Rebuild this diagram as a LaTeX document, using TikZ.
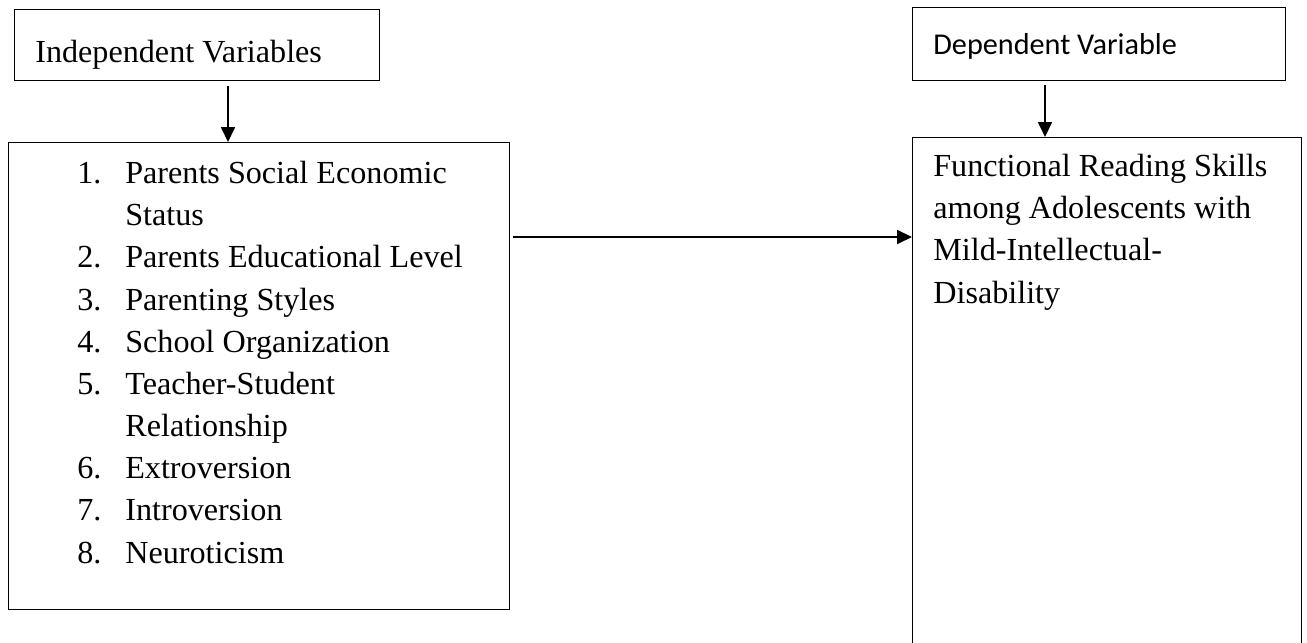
\documentclass[tikz,border=0pt]{standalone}
\usepackage{fontspec}
\setmainfont{Liberation Serif}
\newfontfamily\dvfont{Carlito}
\usetikzlibrary{arrows.meta}
\newcommand\itm[1]{\makebox[0.96cm][l]{#1.}}

\begin{document}
\begin{tikzpicture}[
x=0.02cm, y=-0.02cm,
bx/.style = {draw,line width=0.75pt,rectangle,anchor=north west,inner sep=0pt},
txt/.style = {anchor=base west,inner sep=0pt,align=left,font=\fontsize{18.3}{24}\selectfont},
sf/.style = {anchor=base west,inner sep=0pt,font=\dvfont\fontsize{17.2}{20}\selectfont},
arr/.style = {draw,-{Triangle[length=8.5pt,width=8pt]},line width=0.75pt}
]
  \useasboundingbox (0,0) rectangle (1307,642);

  \node[bx,minimum width=7.3cm,minimum height=1.42cm] (ivbox) at (14,9) {};
  \node[bx,minimum width=7.46cm,minimum height=1.46cm] (dvbox) at (912,7) {};
  \node[bx,minimum width=10.02cm,minimum height=9.34cm] (lbox) at (8,142) {};
  \node[bx,minimum width=7.78cm,minimum height=10.4cm] (rbox) at (912,137) {};

  % base anchor sits on the last line
  \node[txt] (ivtxt) at (35,63) {Independent Variables};
  \node[sf] (dvtxt) at (933,55) {Dependent Variable};
  \node[txt] (ivlist) at (77,563) {\itm{1}Parents Social Economic\\
    \hspace*{0.96cm}Status\\
    \itm{2}Parents Educational Level\\
    \itm{3}Parenting Styles\\
    \itm{4}School Organization\\
    \itm{5}Teacher-Student\\
    \hspace*{0.96cm}Relationship\\
    \itm{6}Extroversion\\
    \itm{7}Introversion\\
    \itm{8}Neuroticism};
  \node[txt] (dvlist) at (933,303) {Functional Reading Skills\\among Adolescents with\\Mild-Intellectual-\\Disability};

  \coordinate (ivtail) at (228,86);
  \coordinate (dvtail) at (1045,85);
  \coordinate (lrtail) at (513,237);
  \path[arr] (ivtail) -- (ivtail |- lbox.north);
  \path[arr] (dvtail) -- (dvtail |- rbox.north);
  \path[arr] (lrtail) -- (lrtail -| rbox.west);

\end{tikzpicture}
\end{document}
